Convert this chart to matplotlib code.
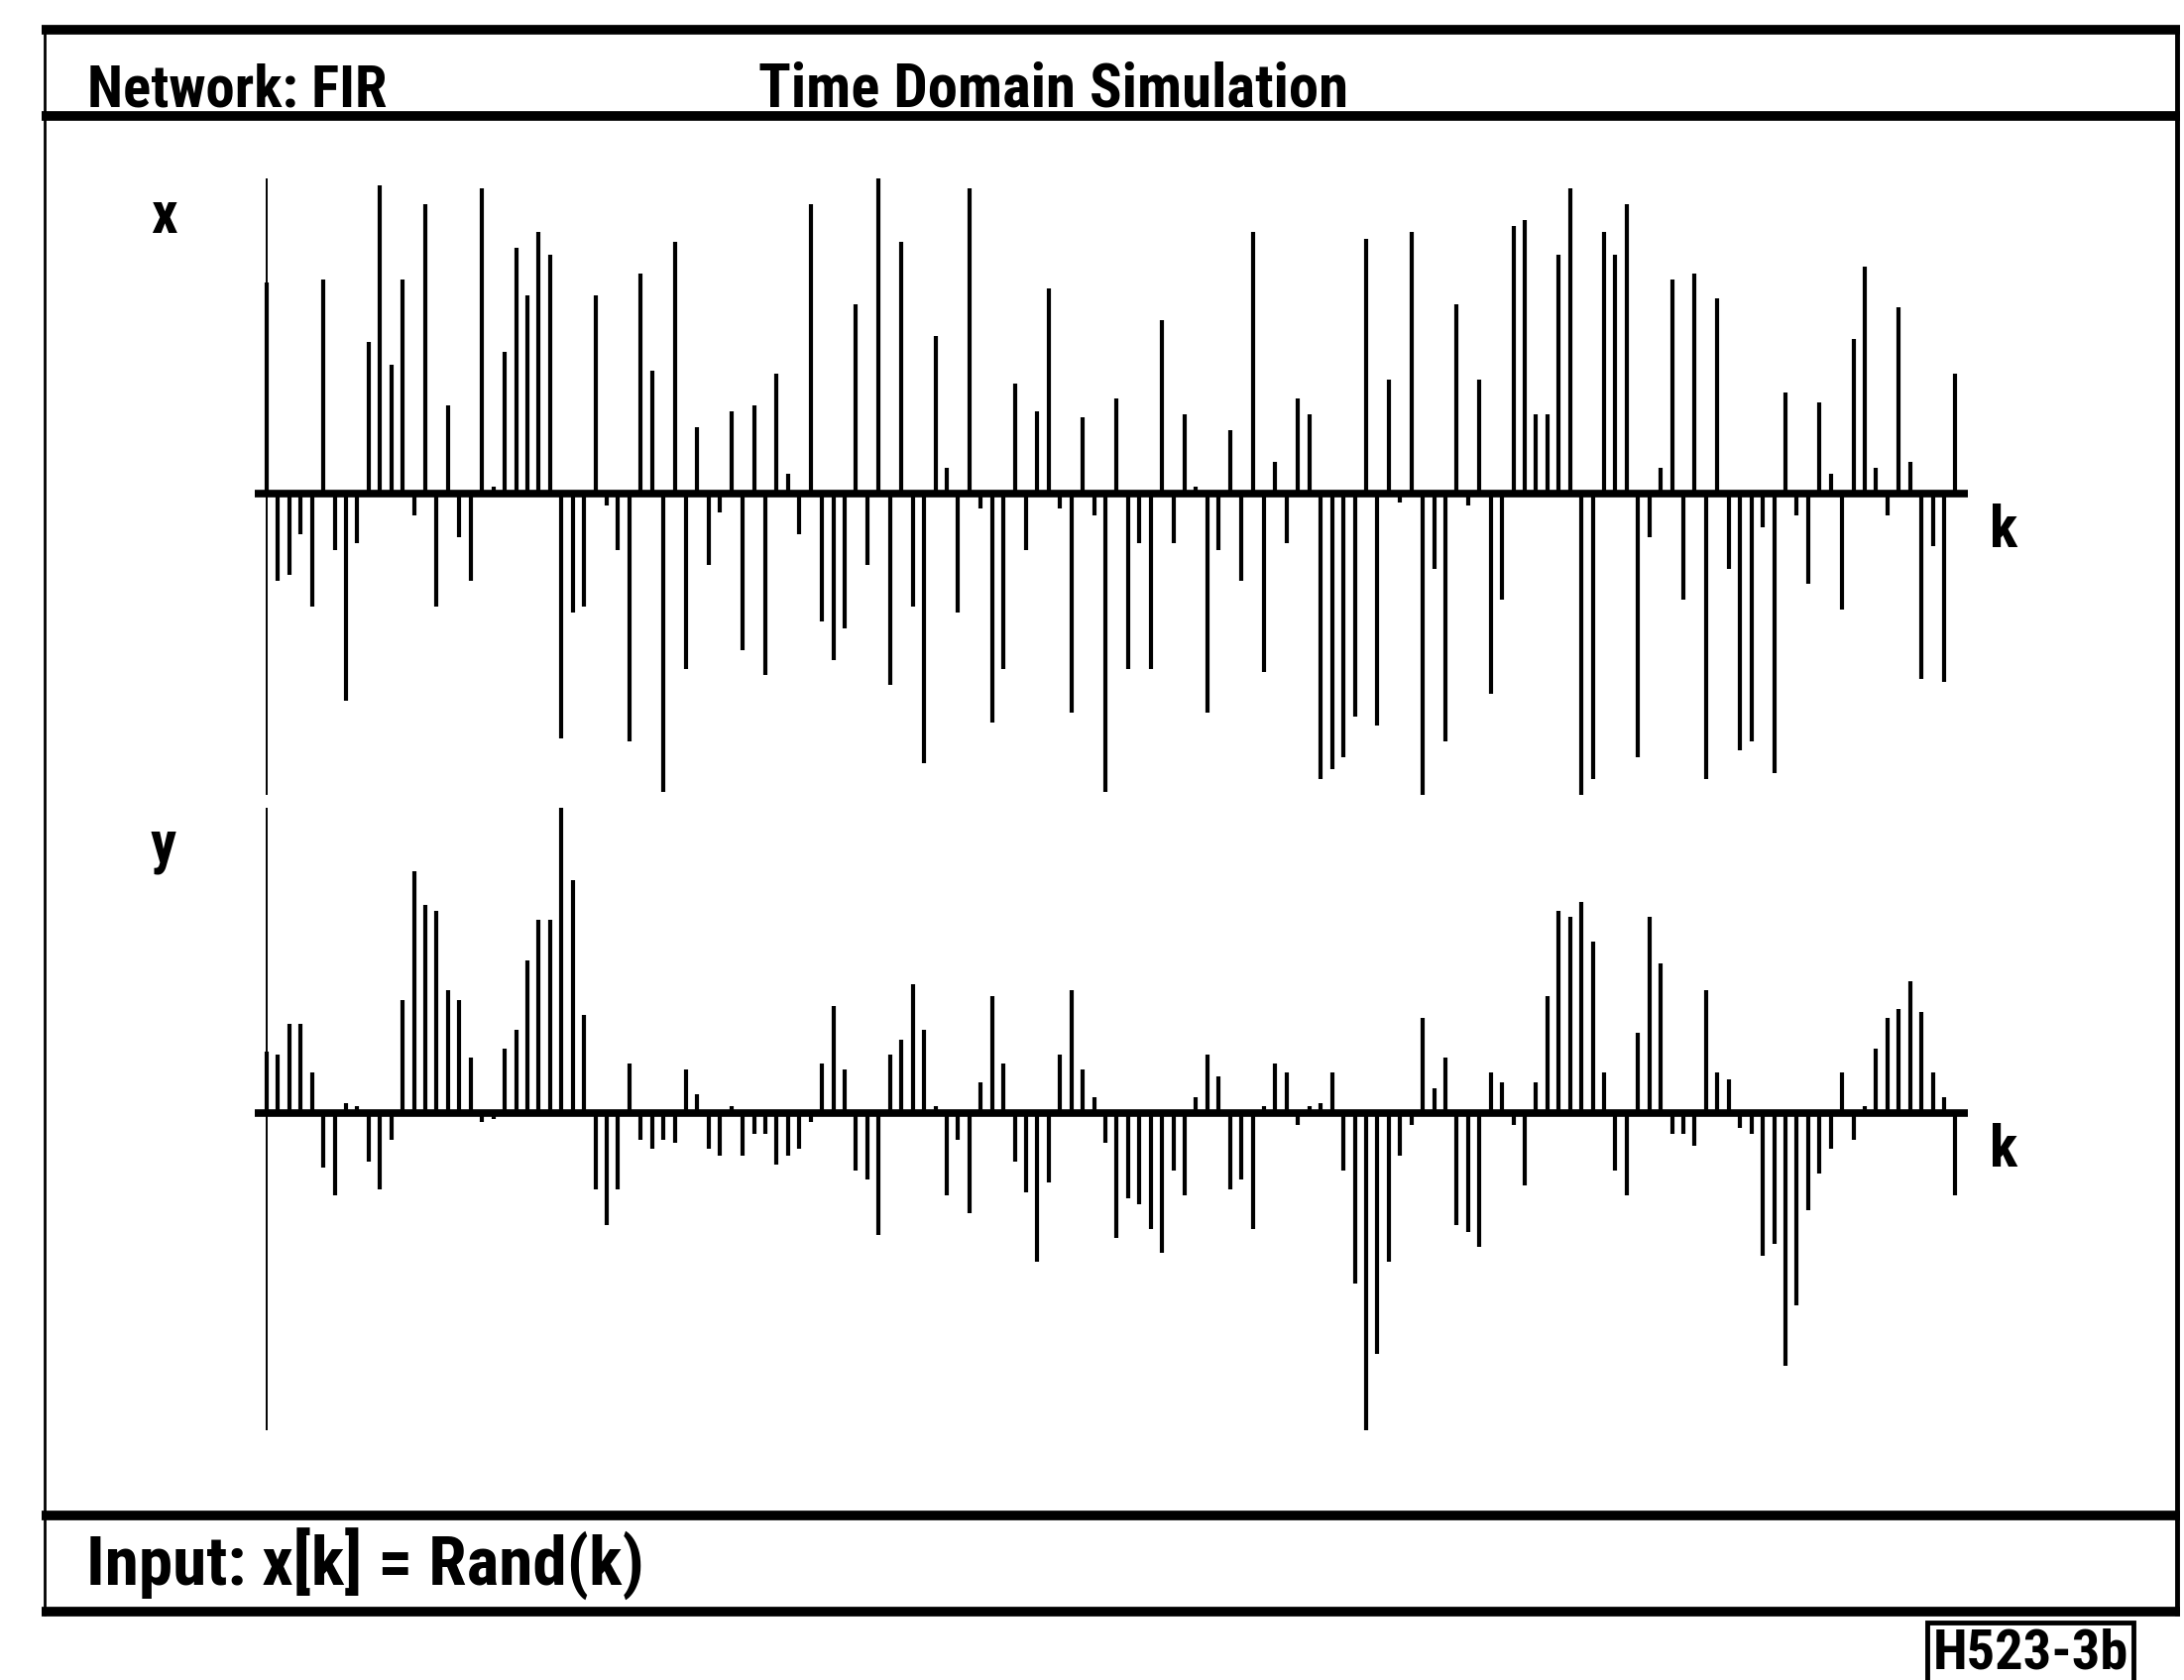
import matplotlib
matplotlib.use('Agg')
import matplotlib.pyplot as plt
from matplotlib import font_manager
from matplotlib.lines import Line2D

# sample index and values
k = list(range(150))

x_vals = [0.67, -0.28, -0.26, -0.13, -0.36, 0.68, -0.18, -0.66, -0.16, 0.48,
          0.98, 0.41, 0.68, -0.07, 0.92, -0.36, 0.28, -0.14, -0.28, 0.97,
          0.02, 0.45, 0.78, 0.63, 0.83, 0.76, -0.78, -0.38, -0.36, 0.63,
          -0.04, -0.18, -0.79, 0.70, 0.39, -0.95, 0.80, -0.56, 0.21, -0.23,
          -0.06, 0.26, -0.50, 0.28, -0.58, 0.38, 0.06, -0.13, 0.92, -0.41,
          -0.53, -0.43, 0.60, -0.23, 1.00, -0.61, 0.80, -0.36, -0.86, 0.50,
          0.08, -0.38, 0.97, -0.05, -0.73, -0.56, 0.35, -0.18, 0.26, 0.65,
          -0.05, -0.70, 0.24, -0.07, -0.95, 0.30, -0.56, -0.16, -0.56, 0.55,
          -0.16, 0.25, 0.02, -0.70, -0.18, 0.20, -0.28, 0.83, -0.57, 0.10,
          -0.16, 0.30, 0.25, -0.91, -0.88, -0.84, -0.71, 0.81, -0.74, 0.36,
          -0.03, 0.83, -0.96, -0.24, -0.79, 0.60, -0.04, 0.36, -0.64, -0.34,
          0.85, 0.87, 0.25, 0.25, 0.76, 0.97, -0.96, -0.91, 0.83, 0.76,
          0.92, -0.84, -0.14, 0.08, 0.68, -0.34, 0.70, -0.91, 0.62, -0.24,
          -0.82, -0.79, -0.11, -0.89, 0.32, -0.07, -0.29, 0.29, 0.06, -0.37,
          0.49, 0.72, 0.08, -0.07, 0.59, 0.10, -0.59, -0.17, -0.60, 0.38]

y_vals = [0.20, 0.19, 0.29, 0.29, 0.13, -0.18, -0.27, 0.03, 0.02, -0.16,
          -0.25, -0.09, 0.37, 0.79, 0.68, 0.66, 0.40, 0.37, 0.18, -0.03,
          -0.02, 0.21, 0.27, 0.50, 0.63, 0.63, 1.00, 0.76, 0.32, -0.25,
          -0.37, -0.25, 0.16, -0.09, -0.12, -0.09, -0.10, 0.14, 0.06, -0.12,
          -0.14, 0.02, -0.14, -0.07, -0.07, -0.17, -0.14, -0.12, -0.03, 0.16,
          0.35, 0.14, -0.19, -0.22, -0.40, 0.19, 0.24, 0.42, 0.27, 0.02,
          -0.27, -0.09, -0.33, 0.10, 0.38, 0.16, -0.16, -0.26, -0.49, -0.23,
          0.19, 0.40, 0.14, 0.05, -0.10, -0.41, -0.28, -0.30, -0.38, -0.46,
          -0.19, -0.27, 0.05, 0.19, 0.12, -0.25, -0.22, -0.38, 0.02, 0.16,
          0.13, -0.04, 0.02, 0.03, 0.13, -0.19, -0.56, -1.04, -0.79, -0.49,
          -0.14, -0.04, 0.31, 0.08, 0.18, -0.37, -0.39, -0.44, 0.13, 0.10,
          -0.04, -0.24, 0.10, 0.38, 0.66, 0.64, 0.69, 0.56, 0.13, -0.19,
          -0.27, 0.26, 0.64, 0.49, -0.07, -0.07, -0.11, 0.40, 0.13, 0.11,
          -0.05, -0.07, -0.47, -0.43, -0.83, -0.63, -0.32, -0.20, -0.12, 0.13,
          -0.09, 0.02, 0.21, 0.31, 0.34, 0.43, 0.33, 0.13, 0.05, -0.27]

header_left = 'Network: FIR'
header_title = 'Time Domain Simulation'
footer_text = 'Input: x[k] = Rand(k)'
tag_text = 'H523-3b'

W, H = 2203, 1695


def fx(px):
    return px / W


def fy(py):
    return 1 - py / H


names = {f.name for f in font_manager.fontManager.ttflist}
family = 'DejaVu Sans'
for cand in ['Liberation Sans Narrow', 'Roboto Condensed', 'Open Sans Condensed']:
    if cand in names:
        family = cand
        break
font_kw = dict(family=family, fontweight='bold', stretch='condensed', color='black')

fig = plt.figure(figsize=(W / 100, H / 100), dpi=100)
fig.patch.set_facecolor('white')


def stem_axes(top, bottom, base, unit, vals):
    ax = fig.add_axes([fx(257), fy(bottom), fx(1985) - fx(257), fy(top) - fy(bottom)])
    ax.set_xlim(-1.05, 150.1)
    ax.set_ylim(-(bottom - base) / unit, (base - top) / unit)
    ax.axis('off')
    ax.vlines(0, min(vals), max(vals), colors='black', lw=1.4)
    ax.vlines(k, 0, vals, colors='black', lw=3.0)
    ax.axhline(0, color='black', lw=5.5)
    return ax


ax_x = stem_axes(170, 812, 497.5, 317, x_vals)
ax_y = stem_axes(810, 1455, 1122.5, 308, y_vals)

# frame
def hline(py, x0, x1, lw):
    fig.add_artist(Line2D([fx(x0), fx(x1)], [fy(py), fy(py)], color='black', lw=lw,
                          transform=fig.transFigure, solid_capstyle='butt'))


def vline(px, y0, y1, lw):
    fig.add_artist(Line2D([fx(px), fx(px)], [fy(y0), fy(y1)], color='black', lw=lw,
                          transform=fig.transFigure, solid_capstyle='butt'))


hline(30, 42, 2199, 7)
hline(117, 42, 2199, 7)
hline(1529, 42, 2199, 7)
hline(1626, 42, 2199, 7)
vline(45, 26, 1630, 2)
vline(2196, 26, 1630, 3.5)

renderer = fig.canvas.get_renderer()


def fit_text(px, py, s, width_px, **kw):
    t = fig.text(fx(px), fy(py), s, fontsize=40, **font_kw, **kw)
    w = t.get_window_extent(renderer).width
    t.set_fontsize(40 * width_px / w)
    return t


t1 = fit_text(88, 107, header_left, 302, ha='left', va='baseline')
fs = t1.get_fontsize()
fit_text(765, 107, header_title, 595, ha='left', va='baseline')
fit_text(87, 1600, footer_text, 562, ha='left', va='baseline')

fig.text(fx(165), fy(235), 'x', fontsize=fs, ha='center', va='baseline', **font_kw)
fig.text(fx(165), fy(870), 'y', fontsize=fs, ha='center', va='baseline', **font_kw)
fig.text(fx(2007), fy(552), 'k', fontsize=fs, ha='left', va='baseline', **font_kw)
fig.text(fx(2007), fy(1177), 'k', fontsize=fs, ha='left', va='baseline', **font_kw)

fig.text(fx(2048), fy(1684), tag_text, fontsize=fs * 0.96, ha='center', va='baseline',
         bbox=dict(boxstyle='square,pad=0.1', fc='white', ec='black', lw=3.5), **font_kw)

fig.savefig('out.png', dpi=100, facecolor='white')
